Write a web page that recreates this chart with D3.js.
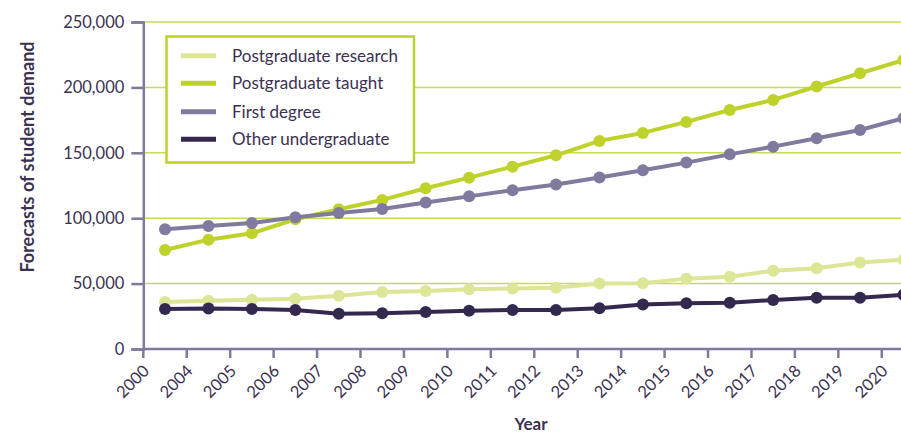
<!DOCTYPE html>
<html>
<head>
<meta charset="utf-8">
<script src="https://cdn.jsdelivr.net/npm/d3@7"></script>
<style>
  html, body { margin: 0; padding: 0; background: #fff; }
  svg { display: block; font-family: Lato, "Open Sans", sans-serif; }
</style>
</head>
<body>
<svg id="chart" width="901" height="433"></svg>
<script>
// Year categories along the x axis
const years = ["2000", "2004", "2005", "2006", "2007", "2008", "2009", "2010", "2011",
               "2012", "2013", "2014", "2015", "2016", "2017", "2018", "2019", "2020"];

// Forecast student demand per qualification level
const postgradResearch = [35900, 36800, 37700, 38500, 40700, 43500, 44300, 45700, 46300,
                          46900, 50000, 50200, 53800, 55300, 59900, 61700, 66200, 68300];
const postgradTaught   = [75700, 83600, 88500, 99200, 106800, 114000, 122900, 131000, 139400,
                          148100, 159100, 165200, 173600, 182700, 190400, 200700, 210800, 220900];
const firstDegree      = [91500, 94000, 96300, 100800, 103900, 107000, 112000, 116700, 121400,
                          125700, 131100, 136600, 142500, 148800, 154700, 161100, 167400, 176400];
const otherUndergrad   = [30600, 31000, 30600, 29900, 26900, 27400, 28300, 29200, 29800,
                          29900, 31100, 34000, 34900, 35400, 37500, 39200, 39200, 41500];

const yTicks = [0, 50000, 100000, 150000, 200000, 250000];

const seriesNames  = ["Postgraduate research", "Postgraduate taught", "First degree", "Other undergraduate"];
const seriesColors = ["#dde696", "#bfd12b", "#807a9e", "#35284f"];
const seriesValues = [postgradResearch, postgradTaught, firstDegree, otherUndergrad];

const W = 901, H = 433;
const plotLeft = 143.3, plotBottom = 349, plotTop = 22;
const step = 43.44;

const svg = d3.select("#chart");
const textColor = "#3b3152";
const axisColor = "#7f7a9c";

const x = d3.scaleBand().domain(years).range([plotLeft, plotLeft + step * years.length]).padding(0);
const y = d3.scaleLinear().domain([0, 250000]).range([plotBottom, plotTop]);

// Clip to the drawing area so the last band runs off the right edge
svg.append("defs").append("clipPath").attr("id", "plot")
  .append("rect").attr("x", 0).attr("y", 0).attr("width", W).attr("height", H);

// Horizontal gridlines
svg.append("g").selectAll("line")
  .data(yTicks.filter(d => d > 0))
  .join("line")
  .attr("x1", plotLeft).attr("x2", W)
  .attr("y1", d => y(d)).attr("y2", d => y(d))
  .attr("stroke", "#c9d95a").attr("stroke-width", 1.5);

// Y axis
const yAxis = svg.append("g")
  .attr("transform", `translate(${plotLeft},0)`)
  .call(d3.axisLeft(y).tickValues(yTicks).tickFormat(d3.format(",")).tickSize(12).tickPadding(7));
yAxis.select(".domain").attr("stroke", axisColor).attr("stroke-width", 2.5);
yAxis.selectAll(".tick line").attr("stroke", axisColor).attr("stroke-width", 2.5);
yAxis.selectAll(".tick text").attr("fill", textColor).attr("font-size", 16.5)
  .attr("font-family", "Lato, sans-serif");

// X axis: ticks at the start of each year band
const xAxis = svg.append("g")
  .attr("transform", `translate(0,${plotBottom})`)
  .call(d3.axisBottom(x).tickSize(9).tickSizeOuter(0));
xAxis.select(".domain").remove();
xAxis.insert("line", ":first-child")
  .attr("x1", plotLeft).attr("x2", W).attr("y1", 0).attr("y2", 0)
  .attr("stroke", axisColor).attr("stroke-width", 2.5);
xAxis.selectAll(".tick").attr("transform", d => `translate(${x(d)},0)`);
xAxis.selectAll(".tick line").attr("stroke", axisColor).attr("stroke-width", 2.5);
xAxis.selectAll(".tick text")
  .attr("fill", textColor).attr("font-size", 16.5).attr("font-family", "Lato, sans-serif")
  .attr("text-anchor", "end").attr("dy", null).attr("y", null)
  .attr("transform", "translate(7,23) rotate(-45)");

// Series lines and markers
const cx = i => x(years[i]) + x.bandwidth() / 2;
const plot = svg.append("g").attr("clip-path", "url(#plot)");
const line = d3.line().x((d, i) => cx(i)).y(d => y(d));

seriesValues.forEach((vals, s) => {
  plot.append("path")
    .datum(vals)
    .attr("d", line)
    .attr("fill", "none")
    .attr("stroke", seriesColors[s])
    .attr("stroke-width", 4)
    .attr("stroke-linejoin", "round");
});
seriesValues.forEach((vals, s) => {
  plot.append("g").selectAll("circle")
    .data(vals)
    .join("circle")
    .attr("cx", (d, i) => cx(i))
    .attr("cy", d => y(d))
    .attr("r", 6)
    .attr("fill", seriesColors[s]);
});

// Axis titles
svg.append("text")
  .attr("transform", `translate(34,157) rotate(-90)`)
  .attr("text-anchor", "middle")
  .attr("font-size", 18).attr("font-weight", "bold")
  .attr("fill", textColor)
  .text("Forecasts of student demand");

svg.append("text")
  .attr("x", 531).attr("y", 430)
  .attr("text-anchor", "middle")
  .attr("font-size", 17).attr("font-weight", "bold")
  .attr("fill", textColor)
  .text("Year");

// Legend
const lg = svg.append("g");
lg.append("rect")
  .attr("x", 166.5).attr("y", 36.5).attr("width", 247.5).attr("height", 126)
  .attr("fill", "#fff").attr("stroke", "#bfd12b").attr("stroke-width", 2.5);
const rowY = [55.7, 83.3, 111.7, 139.3];
seriesNames.forEach((name, s) => {
  lg.append("line")
    .attr("x1", 181).attr("x2", 216)
    .attr("y1", rowY[s]).attr("y2", rowY[s])
    .attr("stroke", seriesColors[s]).attr("stroke-width", 5);
  lg.append("text")
    .attr("x", 232).attr("y", rowY[s] + 6)
    .attr("font-size", 17)
    .attr("fill", textColor)
    .text(name);
});
</script>
</body>
</html>
